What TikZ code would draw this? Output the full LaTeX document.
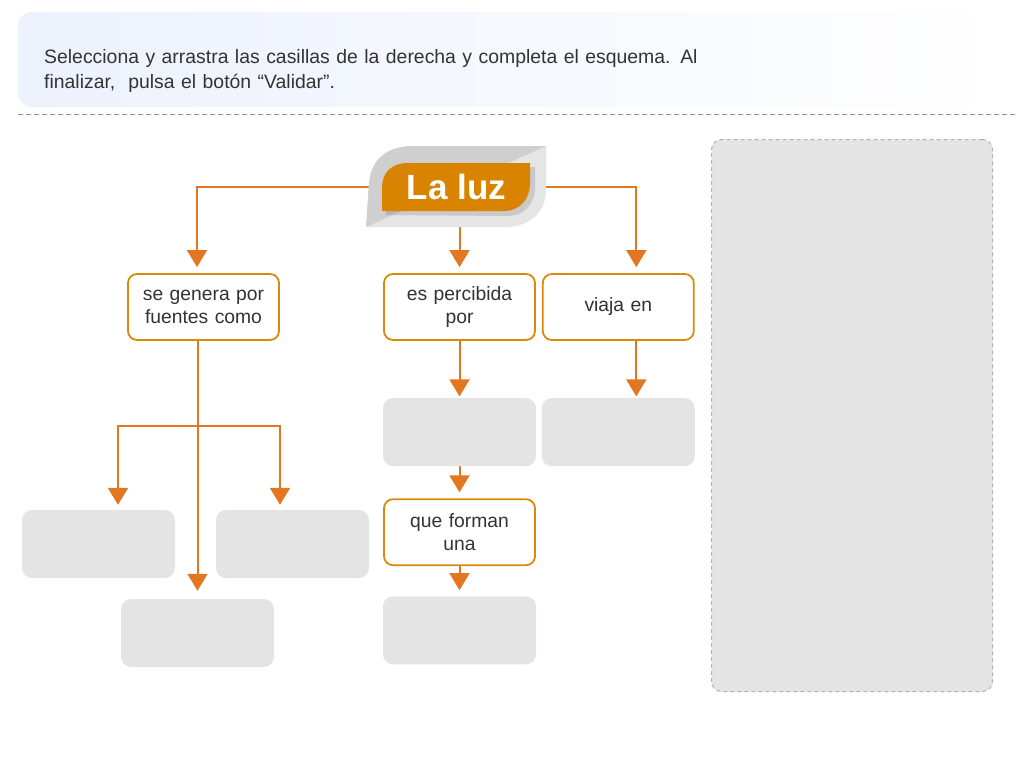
\documentclass[tikz,border=0pt]{standalone}
\usepackage{fontspec}
\setmainfont{Liberation Sans}
\usetikzlibrary{positioning,arrows.meta}

\definecolor{linkorange}{RGB}{226,118,33}
\definecolor{edgeorange}{RGB}{219,137,10}
\definecolor{titleorange}{RGB}{217,132,0}
\definecolor{slotgray}{RGB}{228,228,228}
\definecolor{leafdark}{RGB}{207,207,207}
\definecolor{leaflight}{RGB}{229,229,229}
\definecolor{textgray}{RGB}{51,51,51}
\definecolor{bannerblue}{RGB}{236,241,252}
\definecolor{rulegray}{RGB}{140,149,166}
\definecolor{panelline}{RGB}{178,178,178}

\pgfdeclarelayer{back}
\pgfdeclarelayer{background}
\pgfsetlayers{back,background,main}

\tikzset{
  concept/.style={draw=edgeorange, line width=1.8pt, fill=white, rounded corners=9pt, minimum width=151pt, minimum height=66pt, text width=140pt, align=center, text=textgray, font=\fontsize{19.3}{23}\selectfont},
  slot/.style={fill=slotgray, rounded corners=10pt, minimum width=153pt, minimum height=68pt},
  link/.style={draw=linkorange, line width=2pt, -{Triangle[width=20pt,length=17pt]}}
}

\begin{document}
\begin{tikzpicture}[x=1pt,y=-1pt]
\useasboundingbox (0,0) rectangle (1025,769);

% banner
\shade[left color=bannerblue, right color=white, rounded corners=14pt] (18,12) rectangle (1002,107);
\node[anchor=north west, text width=720pt, align=left, inner sep=0pt, text=textgray, font=\fontsize{19.4}{24.4}\selectfont] (T) at (44,49.5) {Selecciona y arrastra las casillas de la derecha y completa el esquema. Al\\ finalizar,~ pulsa el botón “Validar”.};
\draw[rulegray, line width=1pt, dash pattern=on 5pt off 3pt] (18,114) -- (1017,114);

% title
\node[text=white, font=\bfseries\fontsize{35}{35}\selectfont] (L) at (456.5,187) {La luz};
\begin{pgfonlayer}{background}
\begin{scope}
\clip (366,227) -- (369,184) .. controls (371,158) and (388,146) .. (414,146) -- (546,146) -- (546,190) .. controls (546,212) and (530,227) .. (505,227) -- cycle;
\fill[leaflight] (360,140) rectangle (550,230);
\fill[leafdark] (366,227) -- (546,146) -- (340,130) -- (340,227) -- cycle;
\fill[black, opacity=.12] (386,215) -- (386,192) .. controls (386,176) and (396,167) .. (412,167) -- (535,167) -- (535,187) .. controls (535,203) and (525,216) .. (508,216) -- cycle;
\end{scope}
\fill[titleorange] (382,211) -- (382,188) .. controls (382,172) and (392,163) .. (408,163) -- (530,163) -- (530,183) .. controls (530,199) and (520,211) .. (504,211) -- cycle;
\end{pgfonlayer}

% concept boxes
\node[concept] (G) at (203.5,307) {se genera por\\fuentes como};
\node[concept] (P) at (459.5,307) {es percibida\\por};
\node[concept] (V) [right=6pt of P] {viaja en};
\node[slot] (P1) [below=57pt of P] {};
\node[slot] (V1) [below=57pt of V] {};
\node[concept] (Q) [below=32pt of P1] {que forman\\una};
\node[slot] (Q1) [below=30pt of Q] {};
\node[slot] (G1) at (98.5,544) {};
\node[slot] (G2) at (292.5,544) {};
\node[slot] (G3) at (197.5,633) {};

% answer tray
\node[draw=panelline, line width=1pt, dash pattern=on 4pt off 3pt, fill=slotgray, rounded corners=10pt, minimum width=281pt, minimum height=552pt] (B) at (852,415.5) {};

\begin{pgfonlayer}{back}
\draw[link, shorten >=6pt] (L.center) -| ([xshift=-6.5pt]G.north);
\draw[link, shorten >=6pt] (L.center) -| ([xshift=18pt]V.north);
\draw[link, shorten >=6pt] (P.north |- L.center) -- (P.north);
\draw[link, shorten >=8pt] (G3.north |- G.south) -- (G3.north);
\coordinate (split) at (197,426);
\draw[link, shorten >=5pt] (split) -| ([xshift=19.5pt]G1.north);
\draw[link, shorten >=5pt] (split) -| ([xshift=-12.5pt]G2.north);
\draw[link, shorten >=1.5pt] (P) -- (P1);
\draw[link, shorten >=1.5pt] ([xshift=18pt]V.south) -- ([xshift=18pt]V1.north);
\draw[link, shorten >=6pt] (P1) -- (Q);
\draw[link, shorten >=6pt] (Q) -- (Q1);
\end{pgfonlayer}

\end{tikzpicture}
\end{document}
